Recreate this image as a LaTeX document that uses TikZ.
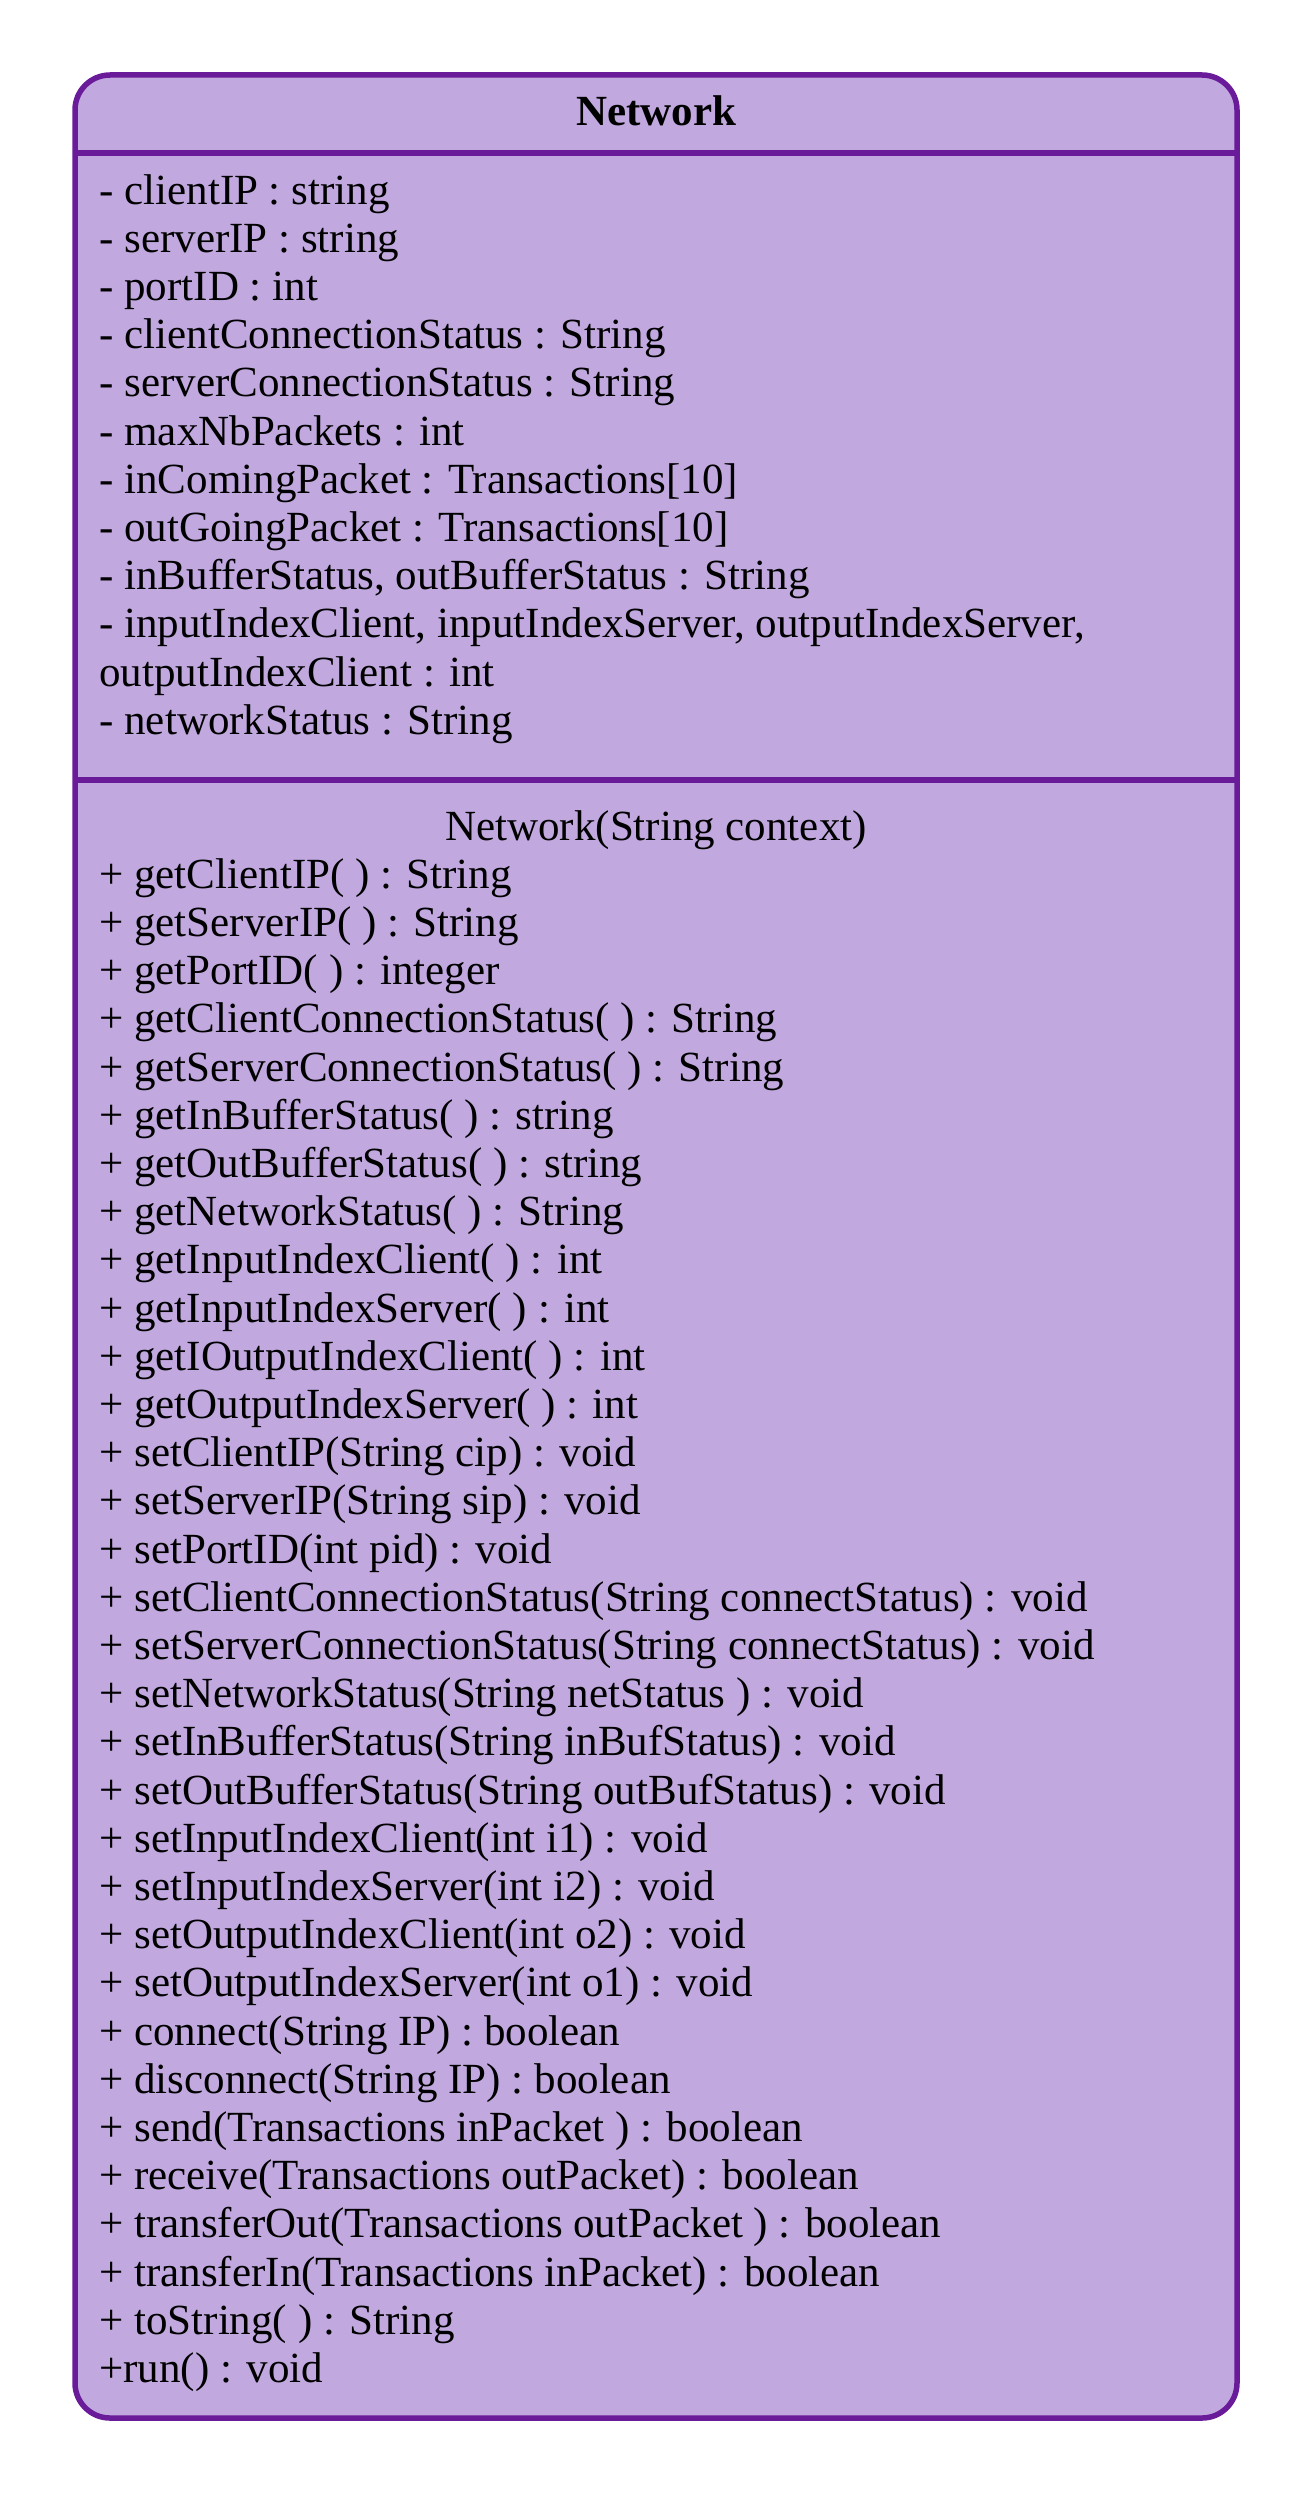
\documentclass[tikz,border=0pt]{standalone}
\usepackage{fontspec}
\setmainfont{Liberation Serif}
\definecolor{umlfill}{HTML}{C1A8DE}
\definecolor{umlline}{HTML}{6A1B9A}
\tikzset{
  classbox/.style={draw=umlline, fill=umlfill, line width=2.75pt, rounded corners=17.5pt},
  divider/.style={draw=umlline, line width=2.75pt},
  member/.style={anchor=base west, inner sep=0pt, font=\fontsize{21.5pt}{24pt}\selectfont},
  ctor/.style={anchor=base, inner sep=0pt, font=\fontsize{21.5pt}{24pt}\selectfont},
  classtitle/.style={anchor=base, inner sep=0pt, font=\fontsize{21.5pt}{24pt}\selectfont\bfseries},
}
\begin{document}
\begin{tikzpicture}[x=0.5pt,y=-0.5pt]
\useasboundingbox (0,0) rectangle (1313,2494);
\draw[classbox] (75,75) rectangle (1237,2418);
\coordinate (d1l) at (75,153); \coordinate (d1r) at (1237,153);
\coordinate (d2l) at (75,780); \coordinate (d2r) at (1237,780);
\draw[divider] (d1l) -- (d1r);
\draw[divider] (d2l) -- (d2r);
\node[classtitle] (title) at (656,126) {Network};
\foreach \t [count=\i from 0] in {
  {- clientIP : string},
  {- serverIP : string},
  {- portID : int},
  {- clientConnectionStatus : String},
  {- serverConnectionStatus : String},
  {- maxNbPackets : int},
  {- inComingPacket : Transactions[10]},
  {- outGoingPacket : Transactions[10]},
  {- inBufferStatus, outBufferStatus : String},
  {- inputIndexClient, inputIndexServer, outputIndexServer,},
  {outputIndexClient : int},
  {- networkStatus : String}}
  \node[member] (attr\i) at (99,{204+48.2*\i}) {\t};
\node[ctor] (ctor) at (656,840) {Network(String context)};
\foreach \t [count=\i] in {
  {+ getClientIP( ) : String},
  {+ getServerIP( ) : String},
  {+ getPortID( ) : integer},
  {+ getClientConnectionStatus( ) : String},
  {+ getServerConnectionStatus( ) : String},
  {+ getInBufferStatus( ) : string},
  {+ getOutBufferStatus( ) : string},
  {+ getNetworkStatus( ) : String},
  {+ getInputIndexClient( ) : int},
  {+ getInputIndexServer( ) : int},
  {+ getIOutputIndexClient( ) : int},
  {+ getOutputIndexServer( ) : int},
  {+ setClientIP(String cip) : void},
  {+ setServerIP(String sip) : void},
  {+ setPortID(int pid) : void},
  {+ setClientConnectionStatus(String connectStatus) : void},
  {+ setServerConnectionStatus(String connectStatus) : void},
  {+ setNetworkStatus(String netStatus ) : void},
  {+ setInBufferStatus(String inBufStatus) : void},
  {+ setOutBufferStatus(String outBufStatus) : void},
  {+ setInputIndexClient(int i1) : void},
  {+ setInputIndexServer(int i2) : void},
  {+ setOutputIndexClient(int o2) : void},
  {+ setOutputIndexServer(int o1) : void},
  {+ connect(String IP) : boolean},
  {+ disconnect(String IP) : boolean},
  {+ send(Transactions inPacket ) : boolean},
  {+ receive(Transactions outPacket) : boolean},
  {+ transferOut(Transactions outPacket ) : boolean},
  {+ transferIn(Transactions inPacket) : boolean},
  {+ toString( ) : String},
  {+run() : void}}
  \node[member] (meth\i) at (99,{840+48.2*\i}) {\t};
\end{tikzpicture}
\end{document}
